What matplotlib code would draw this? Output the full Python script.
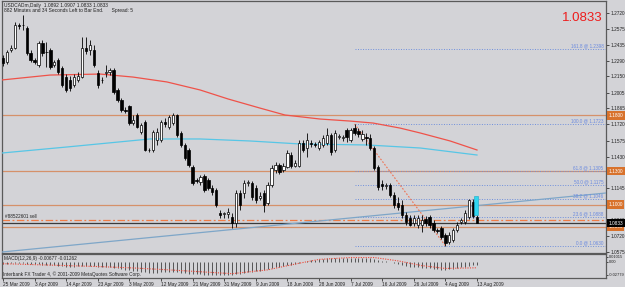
"""USDCADm daily chart (MT4 screenshot look) with MACD sub-window."""
import numpy as np
import matplotlib.pyplot as plt
from matplotlib.transforms import blended_transform_factory as blend

plt.rcParams.update({"font.family": ["Liberation Sans", "DejaVu Sans"], "font.size": 3.4})

BG = "#D3D3D7"
W, H = 625, 287

# ---- price bars, 25 Mar 2009 .. 13 Aug 2009 ----
opens = [1.2316, 1.2280, 1.2388, 1.2406, 1.2612, 1.2612, 1.2586, 1.2361, 1.2298, 1.2253,
         1.2451, 1.2370, 1.2388, 1.2253, 1.2298, 1.2226, 1.2145, 1.2119, 1.2074, 1.2119,
         1.2145, 1.2406, 1.2388, 1.2388, 1.2181, 1.2119, 1.2181, 1.2190, 1.2208, 1.2029,
         1.1939, 1.1849, 1.1885, 1.1732, 1.1804, 1.1652, 1.1741, 1.1490, 1.1490, 1.1580,
         1.1580, 1.1741, 1.1696, 1.1732, 1.1804, 1.1643, 1.1535, 1.1490, 1.1337, 1.1221,
         1.1203, 1.1256, 1.1221, 1.1149, 1.1131, 1.0924, 1.0915, 1.0915, 1.0888, 1.0834,
         1.1104, 1.1104, 1.1194, 1.1194, 1.1149, 1.1059, 1.1104, 1.1014, 1.1176, 1.1310,
         1.1355, 1.1310, 1.1337, 1.1445, 1.1346, 1.1346, 1.1553, 1.1508, 1.1553, 1.1544,
         1.1508, 1.1535, 1.1553, 1.1625, 1.1490, 1.1607, 1.1598, 1.1670, 1.1580, 1.1687,
         1.1661, 1.1589, 1.1607, 1.1598, 1.1508, 1.1337, 1.1185, 1.1167, 1.1176, 1.1086,
         1.1014, 1.0996, 1.0906, 1.0879, 1.0834, 1.0816, 1.0816, 1.0870, 1.0888, 1.0834,
         1.0771, 1.0789, 1.0727, 1.0664, 1.0682, 1.0771, 1.0843, 1.0843, 1.0888, 1.1023,
         1.0892]
highs = [1.2343, 1.2388, 1.2433, 1.2639, 1.2630, 1.2702, 1.2603, 1.2388, 1.2316, 1.2469,
         1.2478, 1.2460, 1.2406, 1.2298, 1.2316, 1.2244, 1.2172, 1.2154, 1.2172, 1.2190,
         1.2505, 1.2505, 1.2478, 1.2433, 1.2208, 1.2145, 1.2253, 1.2226, 1.2226, 1.2047,
         1.1957, 1.1876, 1.1894, 1.1804, 1.1822, 1.1732, 1.1759, 1.1508, 1.1670, 1.1687,
         1.1759, 1.1777, 1.1804, 1.1822, 1.1813, 1.1661, 1.1553, 1.1508, 1.1355, 1.1239,
         1.1265, 1.1274, 1.1239, 1.1176, 1.1149, 1.0951, 1.0933, 1.0969, 1.0924, 1.1131,
         1.1131, 1.1221, 1.1221, 1.1212, 1.1176, 1.1113, 1.1131, 1.1203, 1.1355, 1.1382,
         1.1373, 1.1373, 1.1490, 1.1472, 1.1400, 1.1580, 1.1580, 1.1643, 1.1580, 1.1562,
         1.1580, 1.1625, 1.1687, 1.1643, 1.1670, 1.1634, 1.1625, 1.1687, 1.1687, 1.1723,
         1.1687, 1.1670, 1.1643, 1.1634, 1.1526, 1.1355, 1.1221, 1.1194, 1.1194, 1.1113,
         1.1068, 1.1041, 1.0933, 1.0906, 1.0906, 1.0906, 1.0906, 1.0897, 1.0906, 1.0861,
         1.0789, 1.0807, 1.0745, 1.0754, 1.0789, 1.0843, 1.0879, 1.0951, 1.1050, 1.1050,
         1.0907]
lows = [1.2244, 1.2262, 1.2370, 1.2397, 1.2577, 1.2568, 1.2343, 1.2280, 1.2262, 1.2235,
        1.2334, 1.2235, 1.2217, 1.2235, 1.2172, 1.2056, 1.2011, 1.2020, 1.2056, 1.2101,
        1.2137, 1.2352, 1.2343, 1.2235, 1.2047, 1.2092, 1.2145, 1.2163, 1.1993, 1.1921,
        1.1831, 1.1822, 1.1714, 1.1714, 1.1687, 1.1634, 1.1481, 1.1472, 1.1472, 1.1535,
        1.1562, 1.1696, 1.1679, 1.1714, 1.1607, 1.1517, 1.1400, 1.1337, 1.1176, 1.1194,
        1.1176, 1.1113, 1.1131, 1.1086, 1.0978, 1.0879, 1.0879, 1.0879, 1.0789, 1.0798,
        1.0951, 1.1059, 1.1167, 1.1041, 1.1014, 1.1041, 1.0933, 1.0996, 1.1158, 1.1283,
        1.1274, 1.1292, 1.1328, 1.1328, 1.1337, 1.1337, 1.1472, 1.1427, 1.1517, 1.1517,
        1.1490, 1.1517, 1.1535, 1.1445, 1.1472, 1.1589, 1.1571, 1.1562, 1.1562, 1.1625,
        1.1607, 1.1571, 1.1535, 1.1490, 1.1310, 1.1131, 1.1131, 1.1140, 1.1068, 1.0969,
        1.0951, 1.0879, 1.0816, 1.0807, 1.0807, 1.0789, 1.0754, 1.0807, 1.0789, 1.0754,
        1.0745, 1.0691, 1.0628, 1.0646, 1.0664, 1.0754, 1.0825, 1.0825, 1.0870, 1.0879,
        1.0833]
closes = [1.2271, 1.2370, 1.2406, 1.2612, 1.2603, 1.2609, 1.2361, 1.2298, 1.2280, 1.2451,
          1.2361, 1.2367, 1.2235, 1.2280, 1.2190, 1.2074, 1.2029, 1.2047, 1.2145, 1.2154,
          1.2406, 1.2379, 1.2433, 1.2253, 1.2074, 1.2116, 1.2190, 1.2208, 1.2011, 1.1939,
          1.1849, 1.1840, 1.1732, 1.1759, 1.1696, 1.1714, 1.1490, 1.1487, 1.1652, 1.1652,
          1.1741, 1.1723, 1.1786, 1.1804, 1.1625, 1.1535, 1.1418, 1.1355, 1.1194, 1.1212,
          1.1248, 1.1131, 1.1149, 1.1113, 1.0996, 1.0906, 1.0924, 1.0933, 1.0834, 1.1104,
          1.0996, 1.1194, 1.1203, 1.1068, 1.1041, 1.1077, 1.0996, 1.1176, 1.1328, 1.1355,
          1.1292, 1.1346, 1.1463, 1.1346, 1.1373, 1.1553, 1.1490, 1.1580, 1.1544, 1.1535,
          1.1562, 1.1598, 1.1625, 1.1472, 1.1643, 1.1616, 1.1607, 1.1607, 1.1670, 1.1643,
          1.1634, 1.1634, 1.1598, 1.1508, 1.1328, 1.1158, 1.1167, 1.1176, 1.1086, 1.0996,
          1.0978, 1.0906, 1.0843, 1.0816, 1.0879, 1.0879, 1.0861, 1.0834, 1.0816, 1.0771,
          1.0763, 1.0709, 1.0655, 1.0727, 1.0771, 1.0816, 1.0861, 1.0924, 1.1041, 1.0897,
          1.0833]

date_labels = ["25 Mar 2009", "3 Apr 2009", "14 Apr 2009", "23 Apr 2009", "3 May 2009",
               "12 May 2009", "21 May 2009", "31 May 2009", "9 Jun 2009", "18 Jun 2009",
               "28 Jun 2009", "7 Jul 2009", "16 Jul 2009", "26 Jul 2009", "4 Aug 2009",
               "13 Aug 2009"]
date_bars = [0, 8, 16, 24, 32, 40, 48, 56, 64, 72, 80, 88, 96, 104, 112, 120]

# moving averages (vertices, bar index / price)
red_ma_x = [-0.25, 11.9, 24.6, 32.9, 41.5, 49.9, 57.0, 65.0, 71.4, 80.3, 87.8, 93.7, 100.5, 105.6, 113.2, 120.0]
red_ma_y = [1.2119, 1.2163, 1.2172, 1.2145, 1.2101, 1.2029, 1.1948, 1.1867, 1.1804, 1.1768,
            1.1750, 1.1732, 1.1687, 1.1643, 1.1571, 1.1490]
cyan_ma_x = [-0.25, 16.2, 37.2, 49.9, 62.5, 75.2, 92.2, 105.6, 120.0]
cyan_ma_y = [1.1463, 1.1517, 1.1589, 1.1589, 1.1571, 1.1544, 1.1535, 1.1508, 1.1445]

trend_x = [-0.25, 152.66]
trend_y = [1.0574, 1.1104]

sr_levels = [1.1800, 1.1300, 1.1000, 1.0800]
order_price, order_label = 1.0860, "#88522601 sell"
bid = 1.0833

fib_names = ["0.0", "23.6", "38.2", "50.0", "61.8", "100.0", "161.8"]
fib_prices = [1.0630, 1.0888, 1.1046, 1.1175, 1.1305, 1.1723, 1.2398]
fib_from, fib_to = 89, 112

hilite_bar, hilite_low, hilite_high = 120, 1.0907, 1.1077

price_ticks = [1.2720, 1.2575, 1.2435, 1.2290, 1.2150, 1.2005, 1.1865, 1.1720, 1.1575,
               1.1430, 1.1145, 1.0860, 1.0720, 1.0575]

# MACD(12,26,9) main histogram and signal line
macd = [-0.004, -0.004, -0.003, -0.003, -0.002, -0.003, -0.004, -0.005, -0.005, -0.005,
        -0.006, -0.006, -0.007, -0.007, -0.008, -0.009, -0.010, -0.010, -0.010, -0.009,
        -0.008, -0.008, -0.008, -0.009, -0.010, -0.011, -0.011, -0.012, -0.013, -0.014,
        -0.016, -0.017, -0.018, -0.019, -0.020, -0.021, -0.022, -0.023, -0.023, -0.023,
        -0.022, -0.022, -0.021, -0.021, -0.022, -0.023, -0.024, -0.025, -0.026, -0.026,
        -0.026, -0.027, -0.027, -0.027, -0.028, -0.028, -0.028, -0.028, -0.027, -0.026,
        -0.025, -0.023, -0.022, -0.021, -0.020, -0.019, -0.018, -0.016, -0.014, -0.012,
        -0.010, -0.009, -0.007, -0.006, -0.004, -0.002, 0.000, 0.002, 0.003, 0.004,
        0.005, 0.006, 0.007, 0.007, 0.008, 0.008, 0.009, 0.009, 0.009, 0.009,
        0.009, 0.009, 0.008, 0.007, 0.005, 0.003, 0.002, 0.001, 0.000, -0.002,
        -0.004, -0.006, -0.008, -0.010, -0.011, -0.012, -0.013, -0.014, -0.014, -0.015,
        -0.016, -0.017, -0.017, -0.016, -0.015, -0.014, -0.012, -0.010, -0.008, -0.007,
        -0.0068]
signal_x = [0, 8, 16, 24, 33, 42, 50, 58, 67, 75, 80, 88, 94, 100, 106, 112, 120]
signal_y = [-0.004, -0.006, -0.008, -0.010, -0.013, -0.017, -0.021, -0.025, -0.017, -0.003,
            0.005, 0.009, 0.009, 0.002, -0.008, -0.014, -0.0126]
macd_ticks = [0.01015, 0.0, -0.02779]
macd_tick_labels = ["0.01015", "0.00", "-0.02779"]


def rect(x0, y0, x1, y1):
    return [x0 / W, 1 - y1 / H, (x1 - x0) / W, (y1 - y0) / H]


fig = plt.figure(figsize=(W / 100, H / 100), dpi=100, facecolor=BG)
ax = fig.add_axes(rect(2, 1, 606, 253), facecolor=BG)
axm = fig.add_axes(rect(2, 254, 606, 278), facecolor=BG)
for a in (ax, axm):
    a.set_xlim(-0.25, 152.66)
    for s in a.spines.values():
        s.set_color("#5a5a5a")
        s.set_linewidth(0.9)
ax.set_ylim(1.0565, 1.2828)
axm.set_ylim(-0.03415, 0.01644)

# candles
idx = np.arange(len(opens))
o, hi, lo, c = map(np.array, (opens, highs, lows, closes))
ax.vlines(idx, lo, hi, color="black", lw=0.6, zorder=4)
body = np.maximum(np.abs(c - o), 0.0002)
ax.bar(idx, body, bottom=np.minimum(o, c), width=0.58,
       color=np.where(c >= o, "white", "black"), edgecolor="black", lw=0.5, zorder=5)
ax.bar(hilite_bar - 0.2, hilite_high - hilite_low, bottom=hilite_low, width=0.9,
       color="#2fd6f0", edgecolor="#19a9c8", lw=0.4, zorder=6)

# overlays
ax.plot(red_ma_x, red_ma_y, color="#ef5249", lw=0.9, zorder=3)
ax.plot(cyan_ma_x, cyan_ma_y, color="#57c6e6", lw=0.9, zorder=3)
ax.plot(trend_x, trend_y, color="#7ea6c8", lw=0.9, zorder=3)
for lv in sr_levels:
    ax.axhline(lv, color="#d5916a", lw=0.9, zorder=2)
ax.axhline(order_price, color="#ef7b45", lw=0.9, ls=(0, (6, 2, 1.5, 2)), zorder=2)
ax.axhline(bid, color="#3a3a3a", lw=0.9, zorder=2)
ax.hlines(fib_prices, fib_from, 152.66, colors="#6f8fdc", lw=0.7, ls=(0, (1, 1.6)), zorder=2)
ax.plot([fib_from, fib_to], [fib_prices[5], fib_prices[0]], color="#f07050",
        lw=0.8, ls=(0, (1.5, 1.5)), zorder=3)

yb = blend(ax.transAxes, ax.transData)
for name, p in zip(fib_names, fib_prices):
    ax.text(0.996, p + 0.0006, f"{name} @ {p:.4f}", transform=yb, ha="right", va="bottom",
            fontsize=3.3, color="#6a8ae0")
ax.text(0.005, order_price + 0.0006, order_label, transform=yb, ha="left", va="bottom",
        fontsize=3.3, color="#222222")

# right price scale
ax.set_xticks([])
ax.yaxis.tick_right()
ax.set_yticks(price_ticks, [f"{t:.4f}" for t in price_ticks])
ax.tick_params(axis="y", length=2, width=0.6, color="#333333", labelsize=3.4, pad=1,
               labelcolor="#222222")
for lv in sr_levels:
    ax.text(1.004, lv, f"{lv:.4f}", transform=yb, ha="left", va="center", fontsize=3.4,
            color="white", clip_on=False, zorder=10,
            bbox=dict(boxstyle="square,pad=0.35", fc="#d8722c", ec="none"))
ax.text(1.004, bid, f"{bid:.4f}", transform=yb, ha="left", va="center", fontsize=3.4,
        color="white", clip_on=False, zorder=11,
        bbox=dict(boxstyle="square,pad=0.35", fc="black", ec="none"))

# MACD window
axm.vlines(idx, 0, macd, color="#555555", lw=0.7)
axm.plot(signal_x, signal_y, color="#ef4a3a", lw=0.8, ls=(0, (1, 1.2)))
axm.yaxis.tick_right()
axm.set_yticks(macd_ticks, macd_tick_labels)
axm.tick_params(axis="y", length=1.5, width=0.6, color="#333333", labelsize=2.9, pad=0.8,
                labelcolor="#222222")
axm.set_xticks(date_bars, date_labels)
axm.tick_params(axis="x", length=2, width=0.6, color="#333333", labelsize=3.4, pad=1,
                labelcolor="#222222")
for lbl in axm.get_xticklabels():
    lbl.set_ha("left")
axm.text(0.004, 0.80, "MACD(12,26,9) -0.00677 -0.01262", transform=axm.transAxes,
         ha="left", va="center", fontsize=3.4, color="#222222")
axm.text(0.002, 0.17, "Interbank FX Trader 4, \u00a9 2001-2009 MetaQuotes Software Corp.",
         transform=axm.transAxes, ha="left", va="center", fontsize=3.4, color="#222222")

# header texts
fig.text(4 / W, 1 - 5 / H, "USDCADm,Daily  1.0892 1.0907 1.0833 1.0833", ha="left",
         va="center", fontsize=3.5, color="#222222")
fig.text(4 / W, 1 - 10.5 / H, "882 Minutes and 34 Seconds Left to Bar End.      Spread: 5",
         ha="left", va="center", fontsize=3.5, color="#222222")
fig.text(603 / W, 1 - 18 / H, "1.0833", ha="right", va="center", fontsize=9.5,
         color="#ee1c1c")

fig.savefig("out.png", dpi=100, facecolor=BG)
